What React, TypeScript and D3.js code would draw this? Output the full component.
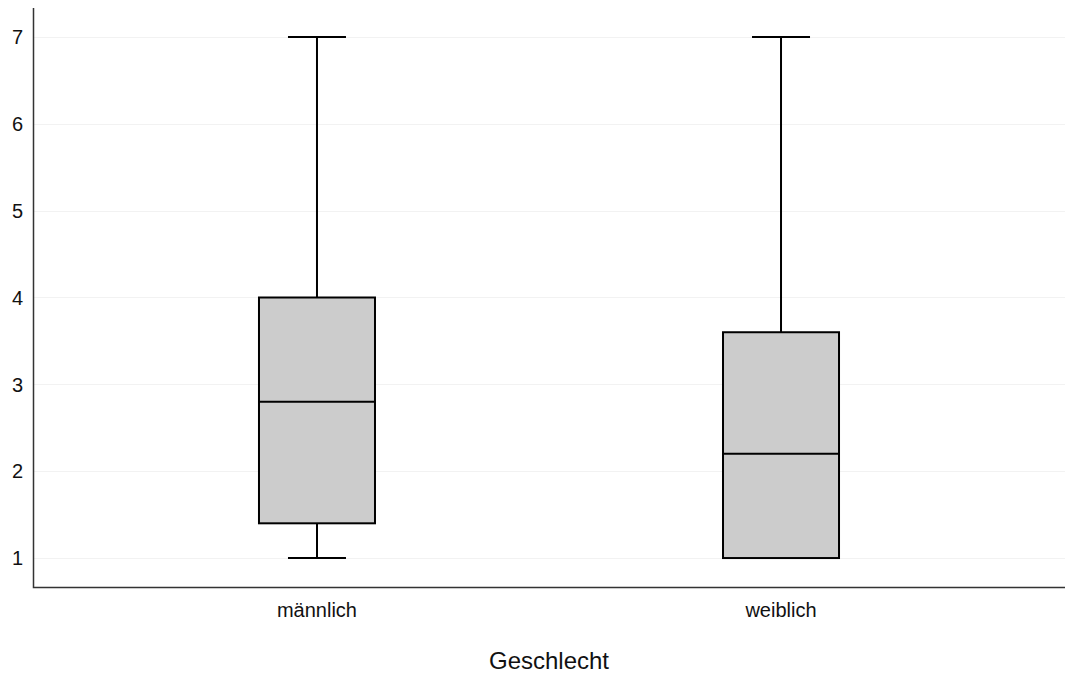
import React, { useEffect, useRef } from "react";
import * as d3 from "d3";

const width = 1065;
const height = 675;
const margin = { left: 33, right: 0, top: 8, bottom: 88 };

const groups = ["männlich", "weiblich"];
const mins = [1, 1];
const q1s = [1.4, 1];
const medians = [2.8, 2.2];
const q3s = [4.0, 3.6];
const maxs = [7, 7];
const yTicks = [1, 2, 3, 4, 5, 6, 7];
const xTitle = "Geschlecht";

const font = "'Liberation Sans', Arial, sans-serif";

export default function App() {
  const ref = useRef<SVGSVGElement>(null);

  useEffect(() => {
    const svg = d3.select(ref.current);
    svg.selectAll("*").remove();

    const x0 = margin.left;
    const x1 = width - margin.right;
    const y0 = height - margin.bottom;
    const y1 = margin.top;

    const x = d3.scalePoint<string>().domain(groups).range([x0, x1]).padding(0.612);
    const y = d3.scaleLinear().domain([2 / 3, 7 + 1 / 3]).range([y0, y1]);
    const step = x.step();
    const boxW = step * 0.25;
    const capW = boxW / 2;

    // gridlines
    svg
      .append("g")
      .selectAll("line")
      .data(yTicks)
      .enter()
      .append("line")
      .attr("x1", x0)
      .attr("x2", x1)
      .attr("y1", d => Math.round(y(d)) + 0.5)
      .attr("y2", d => Math.round(y(d)) + 0.5)
      .attr("stroke", "#f2f2f2")
      .attr("stroke-width", 1);

    // y axis labels
    svg
      .append("g")
      .selectAll("text")
      .data(yTicks)
      .enter()
      .append("text")
      .attr("x", 23)
      .attr("y", d => y(d))
      .attr("dy", "0.36em")
      .attr("text-anchor", "end")
      .attr("font-family", font)
      .attr("font-size", 20)
      .attr("fill", "#111")
      .text(d => d);

    const data = groups.map((g, i) => ({
      g,
      min: mins[i],
      q1: q1s[i],
      med: medians[i],
      q3: q3s[i],
      max: maxs[i]
    }));

    const box = svg.append("g").selectAll("g").data(data).enter().append("g");
    const cx = (d: any) => x(d.g) as number;

    box
      .append("line")
      .attr("x1", cx)
      .attr("x2", cx)
      .attr("y1", d => y(d.q3))
      .attr("y2", d => y(d.max))
      .attr("stroke", "#000")
      .attr("stroke-width", 2);
    box
      .append("line")
      .attr("x1", cx)
      .attr("x2", cx)
      .attr("y1", d => y(d.q1))
      .attr("y2", d => y(d.min))
      .attr("stroke", "#000")
      .attr("stroke-width", 2);
    ["max", "min"].forEach(k => {
      box
        .append("line")
        .attr("x1", d => cx(d) - capW / 2)
        .attr("x2", d => cx(d) + capW / 2)
        .attr("y1", (d: any) => y(d[k]))
        .attr("y2", (d: any) => y(d[k]))
        .attr("stroke", "#000")
        .attr("stroke-width", 2);
    });
    box
      .append("rect")
      .attr("x", d => cx(d) - boxW / 2)
      .attr("width", boxW)
      .attr("y", d => y(d.q3))
      .attr("height", d => y(d.q1) - y(d.q3))
      .attr("fill", "#cccccc")
      .attr("stroke", "#000")
      .attr("stroke-width", 2);
    box
      .append("line")
      .attr("x1", d => cx(d) - boxW / 2)
      .attr("x2", d => cx(d) + boxW / 2)
      .attr("y1", d => y(d.med))
      .attr("y2", d => y(d.med))
      .attr("stroke", "#000")
      .attr("stroke-width", 2);

    // axis lines
    svg
      .append("path")
      .attr("d", `M${x0 + 0.5},${y1}V${y0 + 0.5}H${x1}`)
      .attr("fill", "none")
      .attr("stroke", "#333")
      .attr("stroke-width", 1.5);

    // x labels
    svg
      .append("g")
      .selectAll("text")
      .data(groups)
      .enter()
      .append("text")
      .attr("x", d => x(d) as number)
      .attr("y", 617)
      .attr("text-anchor", "middle")
      .attr("font-family", font)
      .attr("font-size", 20)
      .attr("fill", "#111")
      .text(d => d);

    svg
      .append("text")
      .attr("x", (x0 + x1) / 2)
      .attr("y", 669)
      .attr("text-anchor", "middle")
      .attr("font-family", font)
      .attr("font-size", 24)
      .attr("fill", "#111")
      .text(xTitle);
  }, []);

  return (
    <svg
      ref={ref}
      width={width}
      height={height}
      style={{ position: "absolute", left: 0, top: 0, background: "#fff" }}
    />
  );
}
